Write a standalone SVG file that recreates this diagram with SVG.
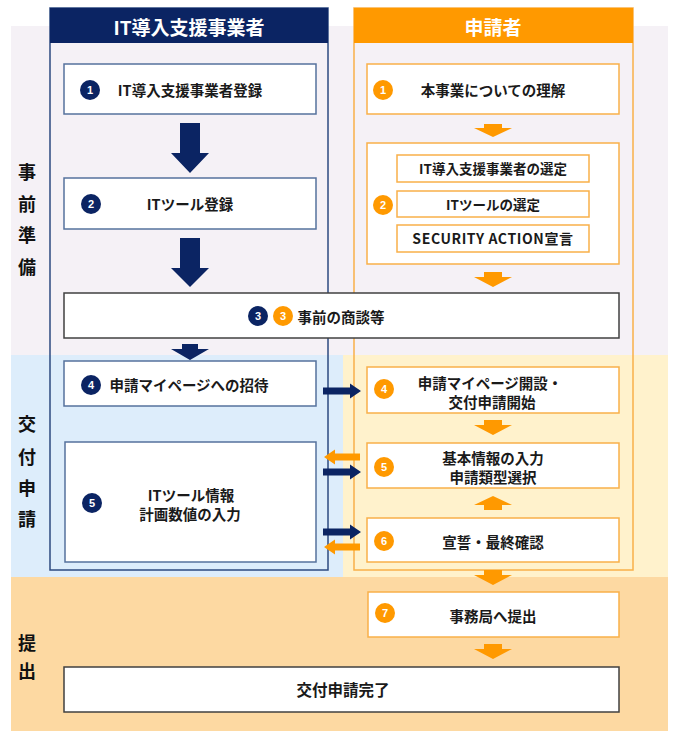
<svg xmlns="http://www.w3.org/2000/svg" width="680" height="740" viewBox="0 0 680 740">
<style>
text{font-family:"Noto Sans CJK JP","Noto Sans",sans-serif;font-weight:700;fill:#1a1a1a;text-anchor:middle;dominant-baseline:central}
.t{font-size:14.5px}
.ts{font-size:13.5px}
.lbl{font-size:18px;fill:#111}
.hd{font-size:19px;fill:#fff}
.num{font-family:"Liberation Sans",Arial,sans-serif;font-size:11px;fill:#fff}
.lbox{fill:#fff;stroke:#55729d;stroke-width:1.5}
.rbox{fill:#fff;stroke:#f9b049;stroke-width:1.5}
.kbox{fill:#fff;stroke:#404040;stroke-width:1.5}
.nv{fill:#0b2463}
.or{fill:#ff9900}
</style>
<!-- bands -->
<rect x="11" y="26" width="657" height="329" fill="#f5f1f6"/>
<rect x="11" y="355" width="332" height="222" fill="#ddedfb"/>
<rect x="343" y="355" width="325" height="222" fill="#fff2cc"/>
<rect x="11" y="577" width="657" height="154" fill="#fdd9a2"/>
<g id="phase-labels">
<text class="lbl" x="27" y="171">事</text>
<text class="lbl" x="27" y="203">前</text>
<text class="lbl" x="27" y="234">準</text>
<text class="lbl" x="27" y="266">備</text>
<text class="lbl" x="27" y="423">交</text>
<text class="lbl" x="27" y="456">付</text>
<text class="lbl" x="27" y="487">申</text>
<text class="lbl" x="27" y="518">請</text>
<text class="lbl" x="27" y="642">提</text>
<text class="lbl" x="27" y="670">出</text>
</g>
<g id="col-vendor">
<rect x="50" y="8" width="278" height="562" fill="none" stroke="#2d4a80" stroke-width="1.5"/>
<rect x="50" y="8" width="278" height="35" class="nv"/>
<text class="hd" x="189" y="26">IT導入支援事業者</text>
</g>
<g id="col-applicant">
<rect x="354" y="8" width="279" height="562" fill="none" stroke="#f9b049" stroke-width="1.5"/>
<rect x="354" y="8" width="279" height="35" class="or"/>
<text class="hd" x="493" y="26">申請者</text>
</g>
<g id="v1">
<rect class="lbox" x="64" y="64" width="252" height="50"/>
<circle cx="90" cy="90" r="10" class="nv"/><text class="num" x="90" y="90">1</text>
<text class="t" x="190" y="89">IT導入支援事業者登録</text>
</g>
<g id="v2">
<rect class="lbox" x="64" y="178" width="252" height="51"/>
<circle cx="91" cy="204" r="10" class="nv"/><text class="num" x="91" y="204">2</text>
<text class="t" x="190" y="203">ITツール登録</text>
</g>
<g id="s3">
<rect class="kbox" x="64" y="293" width="555" height="45"/>
<circle cx="258" cy="316" r="10" class="nv"/><text class="num" x="258" y="316">3</text>
<circle cx="283" cy="316" r="10" class="or"/><text class="num" x="283" y="316">3</text>
<text class="t" x="341" y="316">事前の商談等</text>
</g>
<g id="v4">
<rect class="lbox" x="64" y="361" width="252" height="45"/>
<circle cx="91" cy="385" r="10" class="nv"/><text class="num" x="91" y="385">4</text>
<text class="t" x="189" y="384">申請マイページへの招待</text>
</g>
<g id="v5">
<rect class="lbox" x="65" y="442" width="251" height="120"/>
<circle cx="92" cy="503" r="10" class="nv"/><text class="num" x="92" y="503">5</text>
<text class="t" x="191" y="494">ITツール情報</text>
<text class="t" x="190" y="513">計画数値の入力</text>
</g>
<g id="a1">
<rect class="rbox" x="367" y="64" width="252" height="50"/>
<circle cx="383" cy="90" r="10" class="or"/><text class="num" x="383" y="90">1</text>
<text class="t" x="493" y="89">本事業についての理解</text>
</g>
<g id="a2">
<rect class="rbox" x="367" y="143" width="252" height="121"/>
<rect class="rbox" x="397" y="155" width="192" height="27"/>
<text class="ts" x="493" y="168">IT導入支援事業者の選定</text>
<rect class="rbox" x="397" y="191" width="192" height="26"/>
<text class="ts" x="493" y="204">ITツールの選定</text>
<rect class="rbox" x="397" y="225" width="192" height="27"/>
<text class="ts" x="493" y="238" style="font-size:14px;letter-spacing:0.6px">SECURITY ACTION宣言</text>
<circle cx="383" cy="205" r="10" class="or"/><text class="num" x="383" y="205">2</text>
</g>
<g id="a4">
<rect class="rbox" x="367" y="367" width="252" height="46"/>
<circle cx="384" cy="389" r="10" class="or"/><text class="num" x="384" y="389">4</text>
<text class="t" x="490" y="382">申請マイページ開設・</text>
<text class="t" x="492" y="401">交付申請開始</text>
</g>
<g id="a5">
<rect class="rbox" x="367" y="443" width="252" height="45"/>
<circle cx="384" cy="467" r="10" class="or"/><text class="num" x="384" y="467">5</text>
<text class="t" x="493" y="457">基本情報の入力</text>
<text class="t" x="493" y="476">申請類型選択</text>
</g>
<g id="a6">
<rect class="rbox" x="367" y="518" width="252" height="44"/>
<circle cx="384" cy="541" r="10" class="or"/><text class="num" x="384" y="541">6</text>
<text class="t" x="493" y="541">宣誓・最終確認</text>
</g>
<g id="a7">
<rect class="rbox" x="368" y="592" width="251" height="45"/>
<circle cx="385" cy="613" r="10" class="or"/><text class="num" x="385" y="613">7</text>
<text class="t" x="493" y="615">事務局へ提出</text>
</g>
<g id="done">
<rect class="kbox" x="64" y="667" width="555" height="45"/>
<text x="343" y="689" style="font-size:15.5px">交付申請完了</text>
</g>
<g id="connectors">
<path class="nv" d="M180,123H200V153H209L190,173L171,153H180Z"/>
<path class="nv" d="M180,238H200V268H209L190,287L171,268H180Z"/>
<path class="nv" d="M182,344H198V349H209L190,360L171,349H182Z"/>
<path class="or" d="M484,124H502V128H512L493,137L474,128H484Z"/>
<path class="or" d="M484,272H502V277H512L493,287L474,277H484Z"/>
<path class="or" d="M484,420H502V425H512L493,435L474,425H484Z"/>
<path class="or" d="M493,496L512,505H502V510H484V505H474Z"/>
<path class="or" d="M484,570H502V575H512L493,585L474,575H484Z"/>
<path class="or" d="M484,644H502V649H512L493,659L474,649H484Z"/>
<path class="nv" d="M323,387.5H350V383.5L361,391L350,398.5V394.5H323Z"/>
<path class="nv" d="M323,468.5H350V464.5L361,472L350,479.5V475.5H323Z"/>
<path class="nv" d="M323,528.5H350V524.5L361,532L350,539.5V535.5H323Z"/>
<path class="or" d="M360,453.5H335V449.5L324,457L335,464.5V460.5H360Z"/>
<path class="or" d="M360,543.5H335V539.5L324,547L335,554.5V550.5H360Z"/>
</g>
</svg>
